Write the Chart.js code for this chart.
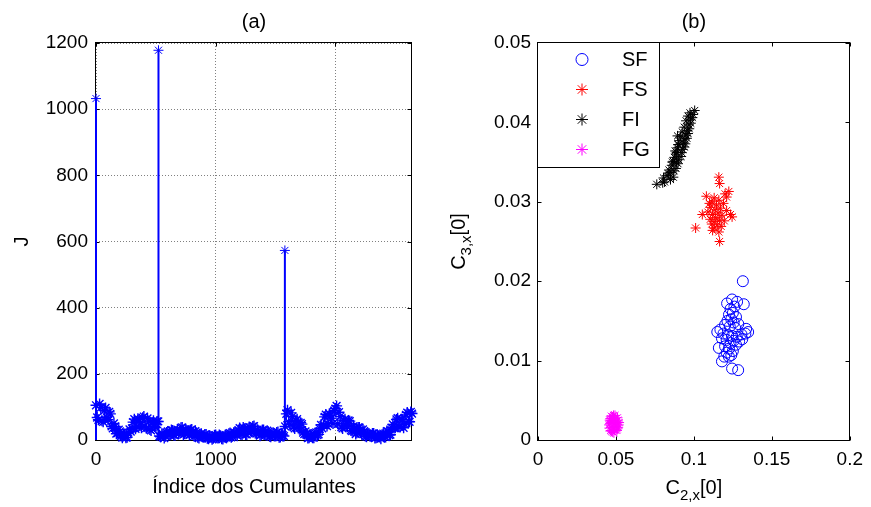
<!DOCTYPE html>
<html>
<head>
<meta charset="utf-8">
<script src="https://cdn.jsdelivr.net/npm/chart.js@4.4.0/dist/chart.umd.min.js"></script>
<style>
  html, body { margin: 0; padding: 0; background: #fff; }
  #wrap { position: relative; width: 871px; height: 507px; }
  #boxA { position: absolute; left: 0; top: 0; width: 435px; height: 507px; }
  #boxB { position: absolute; left: 435px; top: 0; width: 436px; height: 507px; }
</style>
</head>
<body>
<div id="wrap">
  <div id="boxA"><canvas id="chartA" width="435" height="507"></canvas></div>
  <div id="boxB"><canvas id="chartB" width="436" height="507"></canvas></div>
</div>
<script>
// (a) indice dos cumulantes x J (pontos pares e impares)
const cumIndexEven = [0,20,40,60,80,100,120,140,160,180,200,220,240,260,280,300,320,340,360,380,
  400,420,440,460,480,500,520,540,560,580,600,620,640,660,680,700,720,740,760,780,
  800,820,840,860,880,900,920,940,960,980,1000,1020,1040,1060,1080,1100,1120,1140,1160,1180,
  1200,1220,1240,1260,1280,1300,1320,1340,1360,1380,1400,1420,1440,1460,1480,1500,1520,1540,1560,1580,
  1600,1620,1640,1660,1680,1700,1720,1740,1760,1780,1800,1820,1840,1860,1880,1900,1920,1940,1960,1980,
  2000,2020,2040,2060,2080,2100,2120,2140,2160,2180,2200,2220,2240,2260,2280,2300,2320,2340,2360,2380,
  2400,2420,2440,2460,2480,2500,2520,2540,2560,2580,2600,2620,2640];
const jEven = [105,61,98,55,97,61,79,35,41,21,26,7,14,8,32,35,63,40,61,37,
  71,36,57,29,58,38,56,10,17,11,26,16,29,14,31,25,38,19,29,15,
  32,12,22,6,19,9,17,4,10,5,15,6,13,3,14,10,21,11,22,13,
  36,17,34,17,39,26,42,19,27,16,30,16,25,10,22,15,24,9,15,41,
  90,47,71,35,63,37,48,18,20,7,13,7,23,17,46,46,77,49,75,50,
  95,49,71,35,63,40,57,27,36,22,38,20,27,10,20,13,20,7,12,4,
  19,9,26,16,47,37,66,39,61,47,83,55,80];
const cumIndexOdd = [10,30,50,70,90,110,130,150,170,190,210,230,250,270,290,310,330,350,370,390,
  410,430,450,470,490,510,530,550,570,590,610,630,650,670,690,710,730,750,770,790,
  810,830,850,870,890,910,930,950,970,990,1010,1030,1050,1070,1090,1110,1130,1150,1170,1190,
  1210,1230,1250,1270,1290,1310,1330,1350,1370,1390,1410,1430,1450,1470,1490,1510,1530,1550,1570,1590,
  1610,1630,1650,1670,1690,1710,1730,1750,1770,1790,1810,1830,1850,1870,1890,1910,1930,1950,1970,1990,
  2010,2030,2050,2070,2090,2110,2130,2150,2170,2190,2210,2230,2250,2270,2290,2310,2330,2350,2370,2390,
  2410,2430,2450,2470,2490,2510,2530,2550,2570,2590,2610,2630];
const jOdd = [68,109,58,89,68,85,41,50,19,31,12,16,7,22,25,54,34,64,52,67,
  42,65,32,51,41,56,12,19,6,23,16,30,15,25,20,37,16,32,22,30,
  16,27,8,16,10,17,5,12,2,14,7,15,4,10,7,19,8,22,19,30,
  20,38,17,34,27,41,21,31,13,30,17,28,11,18,12,23,8,17,12,79,
  55,82,39,59,42,52,22,26,6,15,7,21,15,34,35,70,42,79,66,89,
  103,84,39,59,44,59,29,41,18,38,22,32,12,18,11,20,6,15,9,16,
  10,27,15,37,36,62,40,63,37,76,56,85];
const spikeIndex = [0, 522, 1578];
const spikeJ = [1032, 1178, 573];
const xTicksA = [0, 1000, 2000];
const yTicksA = [0, 200, 400, 600, 800, 1000, 1200];

// (b) C2,x[0] x C3,x[0]
const sfC2 = [0.1314,0.1245,0.1213,0.1320,0.1277,0.1260,0.1235,0.1250,0.1225,0.1270,0.1240,0.1215,0.1255,
  0.1285,0.1200,0.1230,0.1265,0.1170,0.1150,0.1348,0.1330,0.1190,0.1220,0.1245,0.1275,0.1305,0.1180,
  0.1210,0.1255,0.1290,0.1235,0.1160,0.1200,0.1225,0.1270,0.1210,0.1250,0.1195,0.1240,0.1180,0.1245,
  0.1284,0.1224,0.1310,0.1335];
const sfC3 = [0.0200,0.0177,0.0172,0.0171,0.0174,0.0168,0.0165,0.0160,0.0158,0.0155,0.0152,0.0150,0.0148,
  0.0146,0.0145,0.0143,0.0141,0.0139,0.0136,0.0136,0.0134,0.0134,0.0132,0.0131,0.0130,0.0133,0.0128,
  0.0126,0.0125,0.0124,0.0122,0.0116,0.0118,0.0115,0.0120,0.0110,0.0112,0.0105,0.0107,0.0099,0.0090,
  0.0088,0.0105,0.0127,0.0140];
const fsC2 = [0.1160,0.1165,0.1224,0.1200,0.1080,0.1130,0.1115,0.1160,0.1190,0.1145,0.1105,0.1170,
  0.1135,0.1210,0.1090,0.1155,0.1120,0.1054,0.1180,0.1245,0.1140,0.1105,0.1165,0.1130,0.1195,0.1115,
  0.1150,0.1175,0.1130,0.1011,0.1160,0.1120,0.1165,0.1235,0.1100,0.1210];
const fsC3 = [0.0331,0.0323,0.0313,0.0310,0.0307,0.0305,0.0300,0.0302,0.0298,0.0296,0.0293,0.0292,
  0.0290,0.0289,0.0287,0.0286,0.0284,0.0284,0.0283,0.0281,0.0280,0.0278,0.0277,0.0275,0.0276,0.0272,
  0.0271,0.0269,0.0267,0.0267,0.0262,0.0264,0.0250,0.0284,0.0298,0.0306];
const fiC2 = [0.0762,0.0800,0.0812,0.0850,0.0828,0.0868,0.0848,0.0840,0.0885,0.0872,0.0858,0.0898,
  0.0868,0.0902,0.0888,0.0875,0.0918,0.0885,0.0922,0.0880,0.0928,0.0895,0.0938,0.0900,0.0932,0.0945,
  0.0905,0.0942,0.0955,0.0915,0.0950,0.0962,0.0925,0.0958,0.0970,0.0938,0.0968,0.0980,0.0950,0.0978,
  0.0990,0.0962,0.0995,0.1005,0.0975,0.0900,0.0895,0.0890,0.0862,0.0838,0.0805];
const fiC3 = [0.0322,0.0324,0.0325,0.0328,0.0333,0.0331,0.0337,0.0340,0.0342,0.0339,0.0346,0.0348,
  0.0351,0.0353,0.0350,0.0356,0.0357,0.0360,0.0362,0.0364,0.0366,0.0368,0.0369,0.0372,0.0374,0.0373,
  0.0377,0.0379,0.0380,0.0382,0.0384,0.0386,0.0388,0.0390,0.0392,0.0394,0.0397,0.0399,0.0402,0.0404,
  0.0406,0.0408,0.0410,0.0415,0.0412,0.0372,0.0383,0.0362,0.0350,0.0335,0.0330];
const fgC2 = [0.0486,0.0468,0.0500,0.0458,0.0512,0.0478,0.0462,0.0506,0.0492,0.0472,0.0518,0.0482,
  0.0494,0.0464,0.0508,0.0487,0.0456,0.0502,0.0476,0.0520,0.0470,0.0493,0.0510,0.0460,0.0484,0.0479,
  0.0514,0.0466,0.0497,0.0489];
const fgC3 = [0.0020,0.0024,0.0017,0.0015,0.0025,0.0029,0.0021,0.0012,0.0027,0.0011,0.0019,0.0016,
  0.0031,0.0027,0.0014,0.0009,0.0019,0.0023,0.0022,0.0022,0.0030,0.0013,0.0028,0.0025,0.0031,0.0010,
  0.0016,0.0012,0.0021,0.0025];
const xTicksB = [0, 0.05, 0.1, 0.15, 0.2];
const xTickLabelsB = ['0', '0.05', '0.1', '0.15', '0.2'];
const yTicksB = [0, 0.01, 0.02, 0.03, 0.04, 0.05];
const yTickLabelsB = ['0', '0.01', '0.02', '0.03', '0.04', '0.05'];

const FONT = '"Liberation Sans", Arial, Helvetica, sans-serif';
Chart.defaults.font.family = FONT;
Chart.defaults.color = '#000';

function pairs(xs, ys) {
  return xs.map((x, i) => ({ x: x, y: ys[i] }));
}

function drawRich(ctx, parts, x, y, rotate) {
  // parts: [texto, subscrito?]
  const mainFont = '20px ' + FONT;
  const subFont = '15px ' + FONT;
  let total = 0;
  parts.forEach(p => { ctx.font = p[1] ? subFont : mainFont; total += ctx.measureText(p[0]).width; });
  ctx.save();
  ctx.translate(x, y);
  if (rotate) ctx.rotate(-Math.PI / 2);
  ctx.fillStyle = '#000';
  ctx.textBaseline = 'alphabetic';
  ctx.textAlign = 'left';
  let cx = -total / 2;
  parts.forEach(p => {
    ctx.font = p[1] ? subFont : mainFont;
    ctx.fillText(p[0], cx, p[1] ? 6 : 0);
    cx += ctx.measureText(p[0]).width;
  });
  ctx.restore();
}

// caixa dos eixos com marcas para dentro, como na figura original
const framePlugin = {
  id: 'frame',
  beforeDatasetsDraw(chart, args, opts) {
    const { ctx, chartArea: a, scales } = chart;
    const L = Math.round(a.left) - 0.5, R = Math.round(a.right) - 0.5;
    const T = Math.round(a.top) - 0.5, B = Math.round(a.bottom) + 0.5;
    ctx.save();
    ctx.strokeStyle = '#000';
    ctx.lineWidth = 1;
    ctx.beginPath();
    scales.x.ticks.forEach(t => {
      const px = Math.round(scales.x.getPixelForValue(t.value)) + 0.5;
      ctx.moveTo(px, B); ctx.lineTo(px, B - 4);
      ctx.moveTo(px, T); ctx.lineTo(px, T + 4);
    });
    scales.y.ticks.forEach(t => {
      const py = Math.round(scales.y.getPixelForValue(t.value)) + 0.5;
      ctx.moveTo(L, py); ctx.lineTo(L + 4, py);
      ctx.moveTo(R, py); ctx.lineTo(R - 4, py);
    });
    ctx.stroke();
    ctx.strokeRect(L, T, R - L, B - T);
    ctx.font = '20px ' + FONT;
    ctx.textAlign = 'center';
    ctx.textBaseline = 'middle';
    ctx.fillStyle = '#000';
    ctx.fillText(opts.title, (a.left + a.right) / 2, 22);
    ctx.restore();
  }
};

function drawMarker(ctx, style, x, y, r, color) {
  ctx.save();
  ctx.strokeStyle = color;
  ctx.lineWidth = 1;
  ctx.beginPath();
  if (style === 'circle') {
    ctx.arc(x, y, r, 0, Math.PI * 2);
  } else {
    const d = r * Math.SQRT1_2;
    ctx.moveTo(x - r, y); ctx.lineTo(x + r, y);
    ctx.moveTo(x, y - r); ctx.lineTo(x, y + r);
    ctx.moveTo(x - d, y - d); ctx.lineTo(x + d, y + d);
    ctx.moveTo(x - d, y + d); ctx.lineTo(x + d, y - d);
  }
  ctx.stroke();
  ctx.restore();
}

const boxLegendPlugin = {
  id: 'boxLegend',
  afterDraw(chart) {
    const { ctx } = chart;
    const bx = 102.5, by = 42.5, bw = 122, bh = 125;
    ctx.save();
    ctx.fillStyle = '#fff';
    ctx.fillRect(bx, by, bw, bh);
    ctx.strokeStyle = '#000';
    ctx.lineWidth = 1;
    ctx.strokeRect(bx, by, bw, bh);
    ctx.font = '20px ' + FONT;
    ctx.fillStyle = '#000';
    ctx.textAlign = 'left';
    ctx.textBaseline = 'middle';
    chart.data.datasets.forEach((ds, i) => {
      const cy = by + 17 + i * 30;
      drawMarker(ctx, ds.pointStyle, 147, cy, 6, ds.borderColor);
      ctx.fillText(ds.label, 187, cy + 1);
    });
    ctx.restore();
  }
};

const axisTitlesB = {
  id: 'axisTitlesB',
  afterDraw(chart) {
    const { ctx, chartArea: a } = chart;
    drawRich(ctx, [['C', false], ['2,x', true], ['[0]', false]], (a.left + a.right) / 2, 494, false);
    drawRich(ctx, [['C', false], ['3,x', true], ['[0]', false]], 30, (a.top + a.bottom) / 2, true);
  }
};

// hastes: linha de 0 ate cada pico
const stemData = [];
spikeIndex.forEach((x, i) => {
  stemData.push({ x: x, y: 0 }, { x: x, y: spikeJ[i] }, { x: x, y: null });
});

const bandStyle = {
  pointStyle: 'star',
  pointRadius: 5.5,
  borderColor: '#0000ff',
  backgroundColor: '#0000ff',
  borderWidth: 1.4,
  clip: false
};

new Chart(document.getElementById('chartA'), {
  type: 'scatter',
  data: {
    datasets: [
      Object.assign({ label: 'J', data: pairs(cumIndexEven, jEven) }, bandStyle),
      Object.assign({ label: 'J ', data: pairs(cumIndexOdd, jOdd) }, bandStyle),
      {
        type: 'line',
        label: 'haste',
        data: stemData,
        showLine: true,
        spanGaps: false,
        borderColor: '#0000ff',
        borderWidth: 2,
        pointRadius: 0,
        clip: false
      },
      Object.assign({ label: 'pico', data: pairs(spikeIndex, spikeJ) }, bandStyle, { pointRadius: 5, borderWidth: 1 })
    ]
  },
  options: {
    responsive: false,
    animation: false,
    events: [],
    layout: { padding: { top: 43, left: 0, right: 23, bottom: 0 } },
    plugins: {
      legend: { display: false },
      tooltip: { enabled: false },
      frame: { title: '(a)' }
    },
    scales: {
      x: {
        type: 'linear',
        min: 0,
        max: 2640,
        afterBuildTicks: s => { s.ticks = xTicksA.map(v => ({ value: v })); },
        afterFit: s => { s.height = 67; },
        ticks: { font: { size: 19 }, padding: 8, maxRotation: 0, callback: v => String(v) },
        grid: { color: '#808080', drawTicks: false },
        border: { display: false, dash: [1, 2] },
        title: { display: true, text: 'Índice dos Cumulantes', font: { size: 20 }, padding: { top: 0, bottom: 8 } }
      },
      y: {
        min: 0,
        max: 1200,
        afterBuildTicks: s => { s.ticks = yTicksA.map(v => ({ value: v })); },
        afterFit: s => { s.width = 96; },
        ticks: { font: { size: 19 }, padding: 8, callback: v => String(v) },
        grid: { color: '#808080', drawTicks: false },
        border: { display: false, dash: [1, 2] },
        title: { display: true, text: 'J', font: { size: 20 }, padding: { top: 10, bottom: 0 } }
      }
    }
  },
  plugins: [framePlugin]
});

new Chart(document.getElementById('chartB'), {
  type: 'scatter',
  data: {
    datasets: [
      { label: 'SF', data: pairs(sfC2, sfC3), pointStyle: 'circle', pointRadius: 5.5,
        borderColor: '#0000ff', backgroundColor: 'rgba(0,0,0,0)', borderWidth: 1 },
      { label: 'FS', data: pairs(fsC2, fsC3), pointStyle: 'star', pointRadius: 5,
        borderColor: '#ff0000', backgroundColor: '#ff0000', borderWidth: 1 },
      { label: 'FI', data: pairs(fiC2, fiC3), pointStyle: 'star', pointRadius: 5,
        borderColor: '#000000', backgroundColor: '#000000', borderWidth: 1 },
      { label: 'FG', data: pairs(fgC2, fgC3), pointStyle: 'star', pointRadius: 5,
        borderColor: '#ff00ff', backgroundColor: '#ff00ff', borderWidth: 1 }
    ]
  },
  options: {
    responsive: false,
    animation: false,
    events: [],
    layout: { padding: { top: 43, left: 0, right: 18, bottom: 0 } },
    plugins: {
      legend: { display: false },
      tooltip: { enabled: false },
      frame: { title: '(b)' }
    },
    scales: {
      x: {
        type: 'linear',
        min: 0,
        max: 0.2,
        afterBuildTicks: s => { s.ticks = xTicksB.map(v => ({ value: v })); },
        afterFit: s => { s.height = 67; },
        ticks: { font: { size: 19 }, padding: 8, maxRotation: 0,
          callback: v => xTickLabelsB[xTicksB.indexOf(v)] },
        grid: { display: false, drawTicks: false },
        border: { display: false }
      },
      y: {
        min: 0,
        max: 0.05,
        afterBuildTicks: s => { s.ticks = yTicksB.map(v => ({ value: v })); },
        afterFit: s => { s.width = 103; },
        ticks: { font: { size: 19 }, padding: 7,
          callback: v => yTickLabelsB[yTicksB.indexOf(v)] },
        grid: { display: false, drawTicks: false },
        border: { display: false }
      }
    }
  },
  plugins: [framePlugin, boxLegendPlugin, axisTitlesB]
});
</script>
</body>
</html>
